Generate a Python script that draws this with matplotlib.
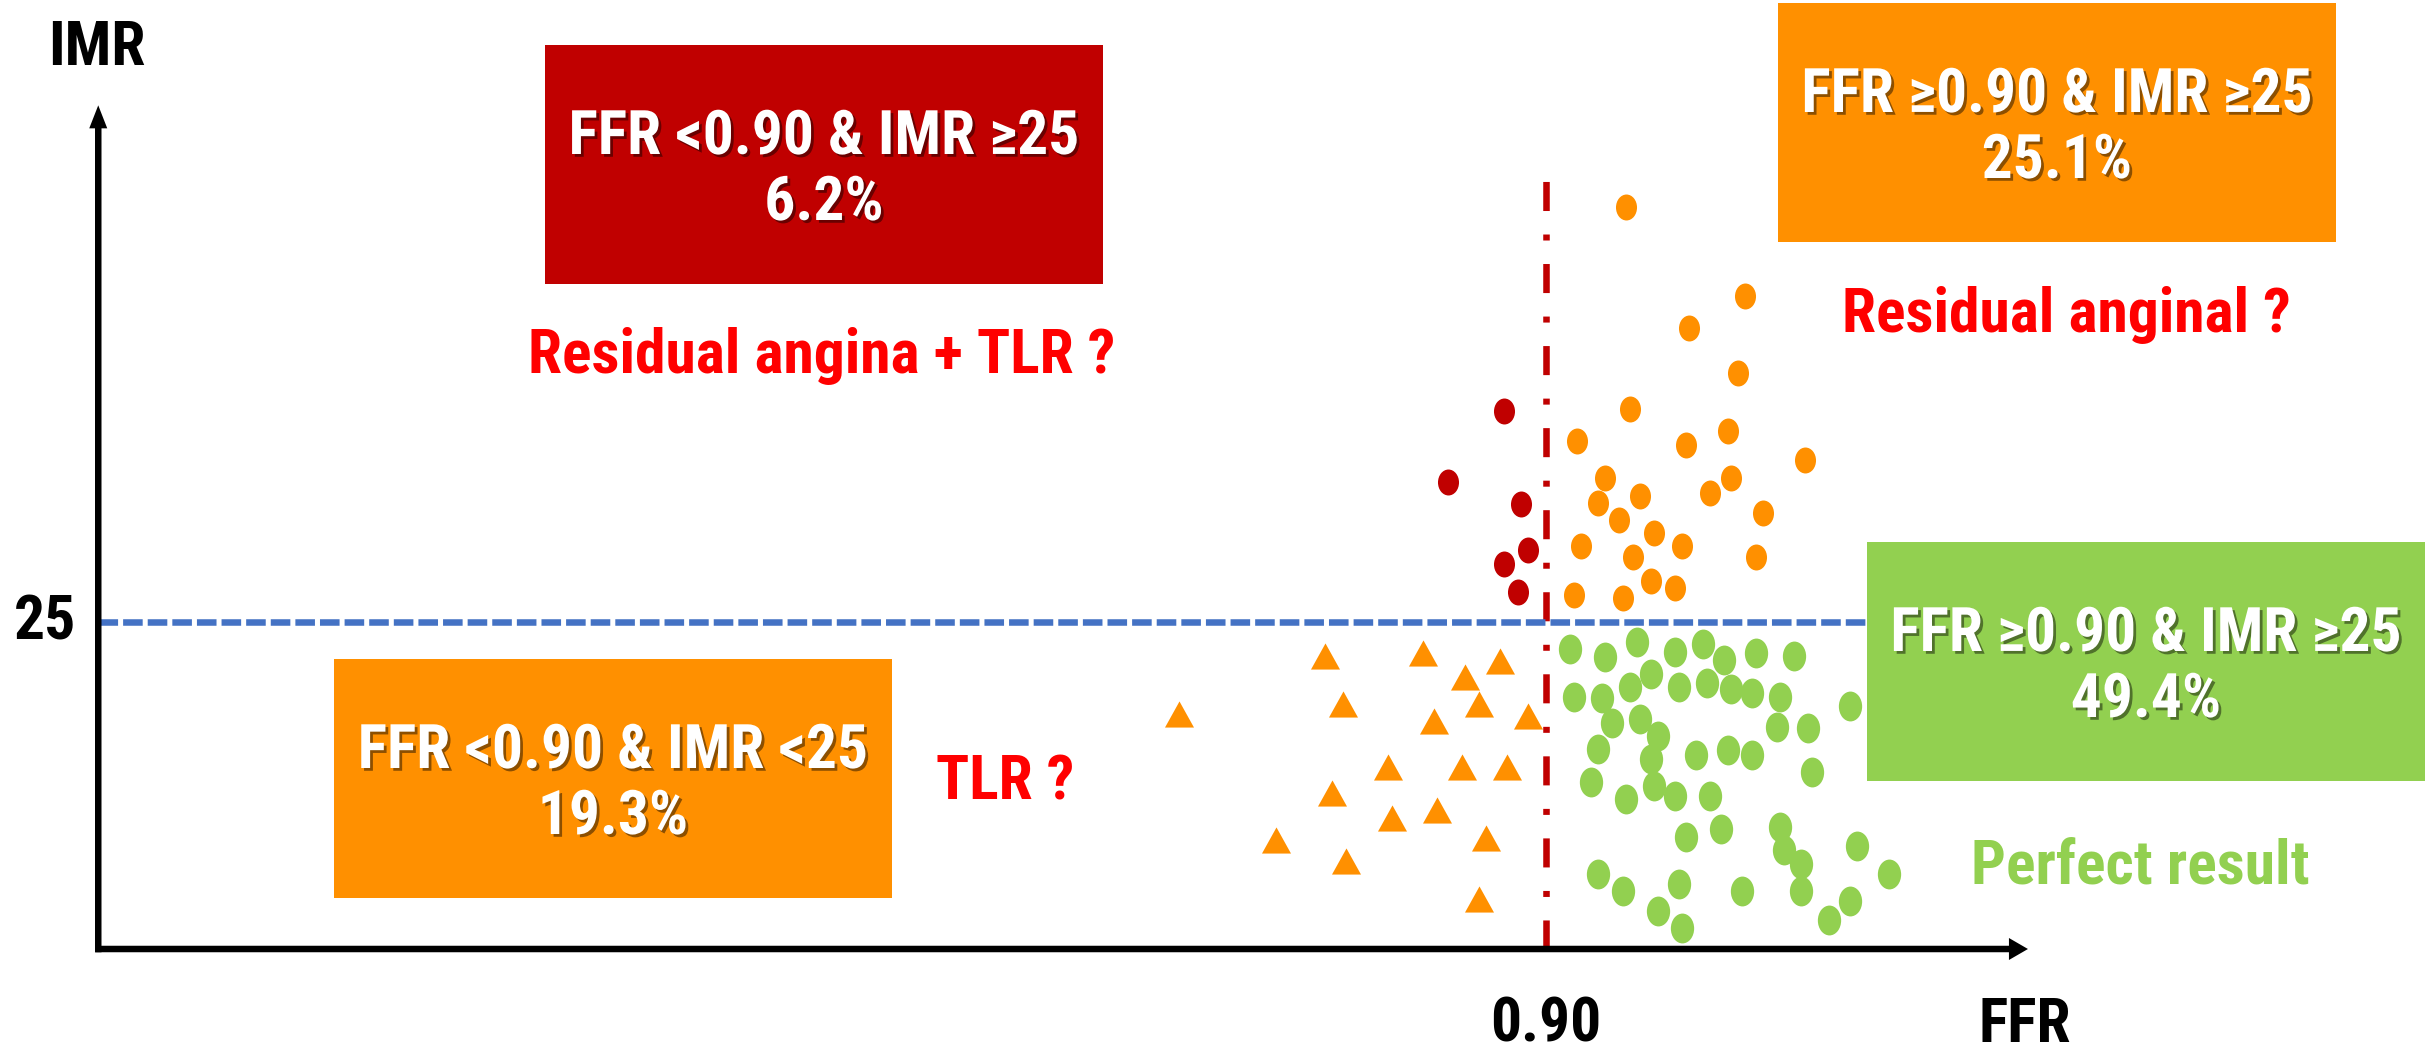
import os
import matplotlib
matplotlib.use("Agg")
import matplotlib.pyplot as plt
from matplotlib import font_manager as fm
from matplotlib.path import Path
from matplotlib.patches import Rectangle, FancyArrow
import matplotlib.patheffects as pe

# ---------------------------------------------------------------- data
# FFR < 0.90 and IMR >= 25 (dark red dots)
red_ffr = [0.888, 0.872, 0.893, 0.895, 0.888, 0.892]
red_imr = [41.1, 35.7, 34.0, 30.5, 29.4, 27.3]

# FFR >= 0.90 and IMR >= 25 (orange dots)
orange_ffr = [0.923, 0.957, 0.941, 0.955, 0.924, 0.909, 0.940, 0.952, 0.974,
              0.917, 0.953, 0.947, 0.915, 0.927, 0.921, 0.962, 0.931, 0.910,
              0.925, 0.939, 0.960, 0.930, 0.937, 0.908, 0.922]
orange_imr = [56.7, 49.9, 47.5, 44.0, 41.3, 38.8, 38.5, 39.6, 37.4,
              36.0, 36.0, 34.9, 34.1, 34.6, 32.8, 33.3, 31.8, 30.8,
              30.0, 30.8, 30.0, 28.1, 27.6, 27.1, 26.8]

# FFR < 0.90 and IMR < 25 (orange triangles)
tri_ffr = [0.837, 0.865, 0.887, 0.877, 0.795, 0.842, 0.881, 0.868, 0.895,
           0.855, 0.876, 0.889, 0.839, 0.856, 0.869, 0.823, 0.843, 0.883, 0.881]
tri_imr = [22.4, 22.6, 22.0, 20.8, 18.0, 18.7, 18.7, 17.4, 17.8,
           13.9, 13.9, 13.9, 11.9, 10.0, 10.6, 8.3, 6.7, 8.5, 3.8]

# FFR >= 0.90 and IMR < 25 (green dots)
green_ffr = [0.907, 0.917, 0.926, 0.937, 0.945, 0.951, 0.960, 0.971, 0.930,
             0.908, 0.916, 0.924, 0.938, 0.946, 0.953, 0.959, 0.967, 0.987,
             0.919, 0.927, 0.932, 0.966, 0.975, 0.915, 0.930, 0.943, 0.952,
             0.959, 0.976, 0.913, 0.923, 0.931, 0.937, 0.947, 0.940, 0.950,
             0.967, 0.968, 0.973, 0.989, 0.998, 0.915, 0.922, 0.938, 0.956,
             0.973, 0.932, 0.939, 0.987, 0.981]
green_imr = [22.9, 22.3, 23.5, 22.7, 23.3, 22.1, 22.6, 22.4, 21.0,
             19.3, 19.2, 20.0, 20.0, 20.3, 19.9, 19.6, 19.3, 18.6,
             17.3, 17.6, 16.3, 17.0, 16.9, 15.3, 14.5, 14.8, 15.2,
             14.8, 13.5, 12.8, 11.5, 12.5, 11.7, 11.7, 8.6, 9.2,
             9.3, 7.6, 6.5, 7.9, 5.7, 5.7, 4.4, 5.0, 4.4,
             4.4, 2.9, 1.6, 3.7, 2.2]

FFR_CUT = 0.90
IMR_CUT = 25

quadrants = [
    # (criteria, share, fill colour)
    ("FFR <0.90 & IMR \u226525", "6.2%", "#C00000"),
    ("FFR \u22650.90 & IMR \u226525", "25.1%", "#FF9000"),
    ("FFR \u22650.90 & IMR \u226525", "49.4%", "#92D050"),
    ("FFR <0.90 & IMR <25", "19.3%", "#FF9000"),
]
notes = ["Residual angina + TLR ?", "Residual anginal ?", "Perfect result", "TLR ?"]


# ---------------------------------------------------------------- font
def condensed_bold():
    """Return a narrow/condensed bold sans face if one is installed."""
    wanted = ["liberationsansnarrow-bold", "robotocondensed-bold",
              "notosans-condensedbold", "notosans-semicondensedbold",
              "dejavusanscondensed-bold", "opensans-condensedbold",
              "opensans_condensed-bold", "opensanscondensed-bold",
              "opensans_semicondensed-bold"]
    by_file = {}
    for f in fm.fontManager.ttflist:
        stem = os.path.splitext(os.path.basename(f.fname))[0].lower()
        by_file[stem] = f
    for w in wanted:
        if w in by_file:
            return by_file[w]
    for stem, f in by_file.items():
        if (("condensed" in stem or "narrow" in stem) and "bold" in stem
                and not any(k in stem for k in ("italic", "mono", "serif", "extra",
                                                "ultra", "semibold", "light"))):
            return f
    return None


face = condensed_bold()
if face is not None:
    plt.rcParams["font.family"] = [face.name, "DejaVu Sans"]
    plt.rcParams["font.stretch"] = face.stretch
else:
    plt.rcParams["font.family"] = ["Liberation Sans", "DejaVu Sans"]
plt.rcParams["font.weight"] = "bold"

DARK_RED = "#C00000"
ORANGE = "#FF9000"
GREEN = "#92D050"
BLUE = "#4472C4"

W, H, DPI = 2433, 1051, 100
fig = plt.figure(figsize=(W / DPI, H / DPI), dpi=DPI)
fig.patch.set_facecolor("white")
ax = fig.add_axes([0, 0, 1, 1])

# size the lettering so the quadrant criteria span ~510 px
probe = fig.text(0, 0, quadrants[0][0], fontsize=40, fontweight="bold")
probe_w = probe.get_window_extent(fig.canvas.get_renderer()).width
probe.remove()
FS = max(34.0, min(46.0, 40 * 510.0 / probe_w))

# pixel scale of the canvas: the cut-off cross (0.90, 25) sits at (1546, 622)
CX, CY = 1546, 622
PX_FFR, PX_IMR = 3500.0, 13.08
ax.set_xlim(FFR_CUT - CX / PX_FFR, FFR_CUT + (W - CX) / PX_FFR)
ax.set_ylim(IMR_CUT - (H - CY) / PX_IMR, IMR_CUT + CY / PX_IMR)
ax.axis("off")


def fx(px):
    return px / W


def fy(py):
    return 1 - py / H


# ---------------------------------------------------------------- axes arrows
x_start, x_tip = 0.4855, 1.0377
y_tip = 64.5
ax.add_patch(FancyArrow(x_start, 0, x_tip - x_start, 0, width=6.5 / PX_IMR,
                        head_width=22 / PX_IMR, head_length=19 / PX_FFR,
                        length_includes_head=True, color="black", lw=0, zorder=3))
ax.add_patch(FancyArrow(x_start + 3 / PX_FFR, -0.25, 0, y_tip + 0.25,
                        width=6.5 / PX_FFR, head_width=18 / PX_FFR,
                        head_length=23 / PX_IMR, length_includes_head=True,
                        color="black", lw=0, zorder=3))

# ---------------------------------------------------------------- cut-off lines
ax.plot([FFR_CUT, FFR_CUT], [0, 60.0], color=DARK_RED, lw=4.7,
        linestyle=(0, (4.45, 3.6, 0.92, 3.6)), zorder=1)
ax.plot([x_start + 3 / PX_FFR, 0.9917], [IMR_CUT, IMR_CUT], color=BLUE, lw=4.7,
        linestyle=(0, (3.0, 0.77)), zorder=1)

# ---------------------------------------------------------------- markers
circ = Path.unit_circle()
oval_small = Path(circ.vertices * [0.81, 1.0], circ.codes)
oval_big = Path(circ.vertices * [0.78, 1.0], circ.codes)
triangle = Path([[0, 0.45], [-0.5, -0.45], [0.5, -0.45], [0, 0.45]],
                [Path.MOVETO, Path.LINETO, Path.LINETO, Path.CLOSEPOLY])

ax.plot(red_ffr, red_imr, ls="none", marker=oval_small, ms=18.7, mew=0,
        color=DARK_RED, zorder=4)
ax.plot(orange_ffr, orange_imr, ls="none", marker=oval_small, ms=18.7, mew=0,
        color=ORANGE, zorder=4)
ax.plot(green_ffr, green_imr, ls="none", marker=oval_big, ms=21.5, mew=0,
        color=GREEN, zorder=4)
ax.plot(tri_ffr, tri_imr, ls="none", marker=triangle, ms=20.9, mew=0,
        color=ORANGE, zorder=4)

# ---------------------------------------------------------------- quadrant boxes
BOX_W, BOX_H = 558, 239
box_corners = [(545, 45), (1778, 3), (1867, 542), (334, 659)]   # left, top (px)
shadow = [pe.withSimplePatchShadow(offset=(2, -2), shadow_rgbFace="black", alpha=0.45)]
for (head, share, col), (left, top) in zip(quadrants, box_corners):
    ax.add_patch(Rectangle((fx(left), fy(top + BOX_H)), BOX_W / W, BOX_H / H,
                           transform=ax.transAxes, facecolor=col, edgecolor="none",
                           zorder=5))
    cx = fx(left + BOX_W / 2)
    ax.text(cx, fy(top + 109), head, transform=ax.transAxes, ha="center",
            va="baseline", color="white", fontsize=FS, fontweight="bold",
            path_effects=shadow, zorder=6)
    ax.text(cx, fy(top + 175), share, transform=ax.transAxes, ha="center",
            va="baseline", color="white", fontsize=FS, fontweight="bold",
            path_effects=shadow, zorder=6)

# ---------------------------------------------------------------- notes
note_pos = [(822, 373, "#FF0000"), (2066, 332, "#FF0000"),
            (2140, 883, GREEN), (1005, 800, "#FF0000")]
for txt, (px, py, col) in zip(notes, note_pos):
    ax.text(fx(px), fy(py), txt, transform=ax.transAxes, ha="center",
            va="baseline", color=col, fontsize=FS, fontweight="bold", zorder=6)

# ---------------------------------------------------------------- axis labels
ax.text(fx(97), fy(65), "IMR", transform=ax.transAxes, ha="center",
        va="baseline", fontsize=FS, fontweight="bold", color="black")
ax.text(fx(2025), fy(1042), "FFR", transform=ax.transAxes, ha="center",
        va="baseline", fontsize=FS, fontweight="bold", color="black")
ax.text(FFR_CUT, fy(1042), f"{FFR_CUT:.2f}", transform=ax.get_xaxis_transform(),
        ha="center", va="baseline", fontsize=FS, fontweight="bold", color="black")
ax.text(fx(45), IMR_CUT, f"{IMR_CUT}", transform=ax.get_yaxis_transform(),
        ha="center", va="center", fontsize=FS, fontweight="bold", color="black")

fig.savefig("out.png", dpi=DPI, facecolor="white")
